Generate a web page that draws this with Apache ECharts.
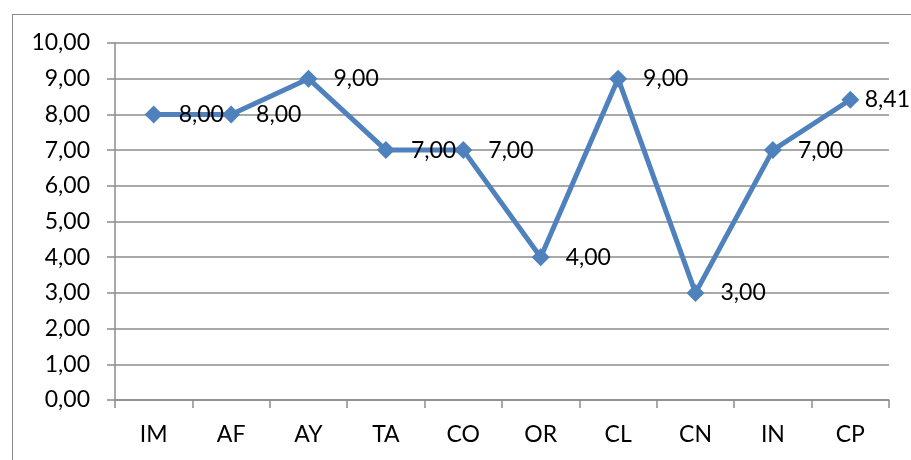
<!DOCTYPE html>
<html>
<head>
<meta charset="utf-8">
<script src="https://cdn.jsdelivr.net/npm/echarts@6/dist/echarts.min.js"></script>
<style>
  html, body { margin: 0; padding: 0; background: #fff; }
  #frame { position: absolute; left: 12px; top: 14px; width: 910px; height: 460px; border: 1px solid #8c8c8c; box-sizing: border-box; }
  #chart { position: absolute; left: 0; top: 0; width: 911px; height: 460px; }
</style>
</head>
<body>
<div id="frame"></div>
<div id="chart"></div>
<script>
const categories = ['IM', 'AF', 'AY', 'TA', 'CO', 'OR', 'CL', 'CN', 'IN', 'CP'];
const scores = [8.00, 8.00, 9.00, 7.00, 7.00, 4.00, 9.00, 3.00, 7.00, 8.41];

const fmt = v => v.toFixed(2).replace('.', ',');
const font = 'Lato, "Open Sans", sans-serif';
const fontSize = 23;
const chartWidth = 911;

const chart = echarts.init(document.getElementById('chart'));
chart.setOption({
  animation: false,
  grid: { left: 115, right: 22, top: 43, bottom: 60 },
  xAxis: {
    type: 'category',
    data: categories,
    boundaryGap: true,
    axisLine: { lineStyle: { color: '#8c8c8c', width: 1.5 } },
    axisTick: { show: true, alignWithLabel: false, length: 8, lineStyle: { color: '#8c8c8c', width: 1.5 } },
    axisLabel: { color: '#000', fontFamily: font, fontSize: fontSize, margin: 23 }
  },
  yAxis: {
    type: 'value',
    min: 0, max: 10, interval: 1,
    axisLine: { show: true, lineStyle: { color: '#8c8c8c', width: 1.5 } },
    axisTick: { show: true, length: 8, lineStyle: { color: '#8c8c8c', width: 1.5 } },
    splitLine: { lineStyle: { color: '#8c8c8c', width: 1.5 } },
    axisLabel: { color: '#000', fontFamily: font, fontSize: fontSize, margin: 25, formatter: v => fmt(v) }
  },
  series: [{
    type: 'line',
    data: scores,
    symbol: 'diamond',
    symbolSize: 18,
    lineStyle: { color: '#4f81bd', width: 5 },
    itemStyle: { color: '#4f81bd' },
    label: {
      show: true,
      position: 'right',
      distance: 16,
      color: '#000',
      fontFamily: font,
      fontSize: fontSize,
      formatter: p => fmt(p.value)
    },
    // shift labels that would run past the right edge back inside the canvas
    labelLayout: params => {
      const r = params.labelRect;
      const overflow = r.x + r.width - (chartWidth - 1);
      return overflow > 0 ? { dx: -overflow } : {};
    }
  }]
});
</script>
</body>
</html>
